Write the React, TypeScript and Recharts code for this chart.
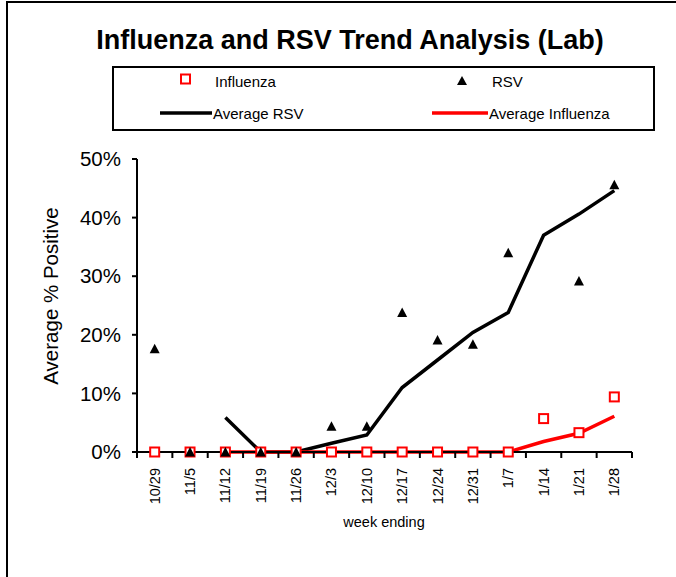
import React from 'react';
import { ComposedChart, Line, Scatter, XAxis, YAxis } from 'recharts';

const weeks = ['10/29', '11/5', '11/12', '11/19', '11/26', '12/3', '12/10', '12/17', '12/24', '12/31', '1/7', '1/14', '1/21', '1/28'];
const influenza = [0, 0, 0, 0, 0, 0, 0, 0, 0, 0, 0, 0.057, 0.033, 0.094];
const rsv = [0.176, 0, 0, 0, 0, 0.044, 0.044, 0.238, 0.191, 0.184, 0.34, null, 0.292, 0.456];
const avgRsv = [null, null, 0.059, 0, 0, 0.015, 0.029, 0.11, 0.157, 0.204, 0.238, 0.37, 0.406, 0.446];
const avgInfluenza = [null, null, 0, 0, 0, 0, 0, 0, 0, 0, 0, 0.018, 0.032, 0.061];
const axisMask = [0, 0, 0, 0, 0, 0, 0, 0, 0, 0, 0, null, null, null];
const yTicks = [0, 0.1, 0.2, 0.3, 0.4, 0.5];

const data = weeks.map((w, i) => ({
  week: w,
  influenza: influenza[i],
  rsv: rsv[i],
  avgRsv: avgRsv[i],
  avgInfluenza: avgInfluenza[i],
  mask: axisMask[i],
}));

const FONT = '"Liberation Sans", Arial, sans-serif';
const HALF_BAND = 17.68;

const XTick = (props: any) => {
  const { x, y, payload, index } = props;
  return (
    <g>
      <line x1={x - HALF_BAND} x2={x - HALF_BAND} y1={y} y2={y + 6} stroke="#000" strokeWidth={2} />
      {index === weeks.length - 1 && (
        <line x1={x + HALF_BAND} x2={x + HALF_BAND} y1={y} y2={y + 6} stroke="#000" strokeWidth={2} />
      )}
      <text
        x={x}
        y={y + 16}
        transform={`rotate(-90 ${x} ${y + 16})`}
        textAnchor="end"
        dominantBaseline="central"
        fontSize={14.5}
        fontFamily={FONT}
        fill="#000"
      >
        {payload.value}
      </text>
    </g>
  );
};

const Square = (props: any) => {
  const { cx, cy, payload } = props;
  if (payload == null || payload.influenza == null || cx == null || cy == null) return <g />;
  return <rect x={cx - 4.5} y={cy - 4.5} width={9} height={9} fill="#fff" stroke="#ff0000" strokeWidth={2} />;
};

const Triangle = (props: any) => {
  const { cx, cy, payload } = props;
  if (payload == null || payload.rsv == null || cx == null || cy == null) return <g />;
  return <path d={`M ${cx} ${cy - 5} L ${cx + 5} ${cy + 4.5} L ${cx - 5} ${cy + 4.5} Z`} fill="#000" />;
};

export default function App() {
  return (
    <div style={{ position: 'absolute', left: 0, top: 0, width: 676, height: 577, background: '#fff', fontFamily: FONT, overflow: 'hidden' }}>
      <div style={{ position: 'absolute', left: 6, top: 1, width: 672, height: 580, borderLeft: '2px solid #000', borderTop: '2px solid #000', boxSizing: 'border-box' }} />
      <div style={{ position: 'absolute', left: 0, top: 23, width: 700, textAlign: 'center', fontSize: 27, fontWeight: 'bold', lineHeight: '34px', color: '#000' }}>
        Influenza and RSV Trend Analysis (Lab)
      </div>
      <div style={{ position: 'absolute', left: 112, top: 66, width: 543, height: 65, border: '2px solid #000', boxSizing: 'border-box' }}>
        <svg width={539} height={61} style={{ position: 'absolute', left: 0, top: 0 }}>
          <rect x={67} y={6.5} width={9} height={9} fill="#fff" stroke="#ff0000" strokeWidth={2} />
          <path d="M 348 8 L 353 17 L 343 17 Z" fill="#000" />
          <line x1={46} x2={98} y1={45} y2={45} stroke="#000" strokeWidth={3.5} />
          <line x1={318} x2={374} y1={45} y2={45} stroke="#ff0000" strokeWidth={3.5} />
          <text x={101} y={13} fontSize={15} fontFamily={FONT} dominantBaseline="central" fill="#000">Influenza</text>
          <text x={378} y={13} fontSize={15} fontFamily={FONT} dominantBaseline="central" fill="#000">RSV</text>
          <text x={99} y={45} fontSize={15} fontFamily={FONT} dominantBaseline="central" fill="#000">Average RSV</text>
          <text x={375} y={45} fontSize={15} fontFamily={FONT} dominantBaseline="central" fill="#000">Average Influenza</text>
        </svg>
      </div>
      <div style={{ position: 'absolute', left: 0, top: 0 }}>
        <ComposedChart width={676} height={577} data={data} margin={{ top: 159, right: 44, bottom: 0, left: 0 }}>
          <XAxis
            dataKey="week"
            type="category"
            interval={0}
            padding={{ left: HALF_BAND, right: HALF_BAND }}
            tick={<XTick />}
            tickLine={false}
            tickSize={0}
            tickMargin={0}
            axisLine={{ stroke: '#000', strokeWidth: 2 }}
            height={125}
            label={{
              content: () => (
                <text x={384} y={522} textAnchor="middle" dominantBaseline="central" fontSize={14.5} fontFamily={FONT} fill="#000">
                  week ending
                </text>
              ),
            }}
          />
          <YAxis
            type="number"
            domain={[0, 0.5]}
            ticks={yTicks}
            width={137}
            tickSize={5}
            tickMargin={11}
            tickLine={{ stroke: '#000', strokeWidth: 2 }}
            axisLine={{ stroke: '#000', strokeWidth: 2 }}
            tickFormatter={(v: number) => `${Math.round(v * 100)}%`}
            tick={{ fontSize: 20.5, fill: '#000', fontFamily: FONT }}
            label={{
              content: () => (
                <text x={50} y={296} transform="rotate(-90 50 296)" textAnchor="middle" dominantBaseline="central" fontSize={20.5} fontFamily={FONT} fill="#000">
                  Average % Positive
                </text>
              ),
            }}
          />
          <Line dataKey="mask" stroke="#fff" strokeWidth={8} dot={false} activeDot={false} isAnimationActive={false} legendType="none" />
          <Line dataKey="avgRsv" stroke="#000" strokeWidth={3.5} dot={false} activeDot={false} isAnimationActive={false} />
          <Line dataKey="avgInfluenza" stroke="#ff0000" strokeWidth={3.5} dot={false} activeDot={false} isAnimationActive={false} />
          <Scatter dataKey="influenza" shape={<Square />} isAnimationActive={false} />
          <Scatter dataKey="rsv" shape={<Triangle />} isAnimationActive={false} />
        </ComposedChart>
      </div>
    </div>
  );
}
